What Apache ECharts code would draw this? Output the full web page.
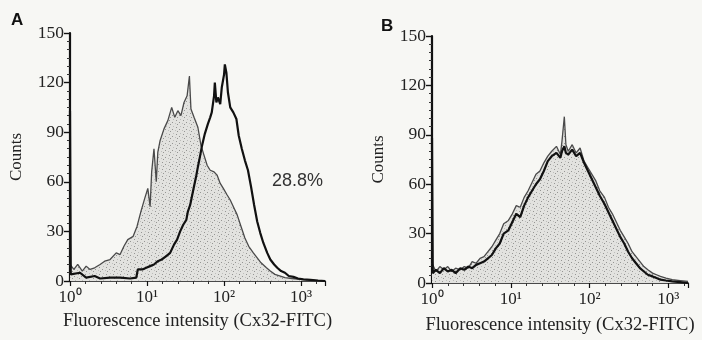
<!DOCTYPE html>
<html>
<head>
<meta charset="utf-8">
<script src="https://cdn.jsdelivr.net/npm/echarts@6/dist/echarts.min.js"></script>
<style>
  html, body { margin: 0; padding: 0; background: #f7f7f4; }
  #chart { width: 702px; height: 340px; }
</style>
</head>
<body>
<div id="chart"></div>
<script>
// panel A - control (grey, filled) : log10 of intensity, counts
const aCtrlLog = [0.00, 0.05, 0.10, 0.16, 0.21, 0.26, 0.32, 0.39, 0.45, 0.52, 0.60, 0.65, 0.70, 0.75, 0.82, 0.87,
  0.92, 0.97, 1.01, 1.04, 1.06, 1.09, 1.12, 1.14, 1.17, 1.22, 1.27, 1.32, 1.36, 1.40, 1.44, 1.48, 1.52, 1.55,
  1.57, 1.61, 1.66, 1.70, 1.74, 1.78, 1.82, 1.87, 1.91, 1.95, 1.99, 2.04, 2.08, 2.13, 2.17, 2.22, 2.27, 2.32,
  2.38, 2.43, 2.48, 2.55, 2.60, 2.66, 2.73, 2.79, 2.88, 2.99, 3.12, 3.25];
const aCtrlCounts = [10, 7, 10, 6, 9, 7, 8, 10, 12, 13, 17, 16, 21, 25, 27, 33,
  42, 50, 56, 45, 66, 80, 60, 78, 85, 92, 97, 105, 99, 103, 100, 108, 112, 124,
  104, 99, 93, 82, 76, 70, 67, 66, 64, 59, 56, 52, 49, 44, 40, 33, 26, 21,
  17, 14, 11, 8, 6, 4, 3, 2, 1.5, 1, 0.5, 0];

// panel A - Cx32 stained (black)
const aCx32Log = [0.00, 0.01, 0.13, 0.21, 0.32, 0.39, 0.52, 0.65, 0.78, 0.86, 0.88, 0.94, 0.99, 1.04, 1.09, 1.14,
  1.19, 1.25, 1.30, 1.35, 1.39, 1.43, 1.47, 1.51, 1.53, 1.56, 1.60, 1.64, 1.66, 1.69, 1.71, 1.75, 1.79, 1.82,
  1.84, 1.87, 1.88, 1.90, 1.92, 1.95, 1.97, 2.00, 2.01, 2.03, 2.05, 2.08, 2.12, 2.16, 2.19, 2.23, 2.27, 2.31,
  2.35, 2.39, 2.43, 2.47, 2.51, 2.56, 2.60, 2.65, 2.69, 2.74, 2.79, 2.84, 2.90, 2.96, 3.03, 3.12, 3.22, 3.31];
const aCx32Counts = [103, 4, 5, 2, 3, 1.5, 2, 2, 1.5, 2, 7, 7, 8, 9, 10, 12,
  13, 15, 17, 22, 25, 30, 34, 37, 42, 46, 55, 64, 69, 76, 81, 89, 95, 99,
  102, 112, 120, 108, 111, 107, 117, 125, 131, 126, 114, 105, 102, 98, 88, 80, 73, 67,
  57, 46, 36, 29, 23, 17, 13, 10, 8, 6, 5, 3, 2.5, 1.5, 1, 0.7, 0.3, 0];

// panel B - shared channel positions
const bLog = [0.00, 0.01, 0.05, 0.10, 0.15, 0.20, 0.25, 0.30, 0.36, 0.41, 0.46, 0.51, 0.56, 0.61, 0.66, 0.71,
  0.76, 0.81, 0.86, 0.91, 0.97, 1.02, 1.07, 1.12, 1.17, 1.22, 1.27, 1.32, 1.37, 1.42, 1.47, 1.52, 1.58, 1.63,
  1.65, 1.68, 1.70, 1.73, 1.78, 1.83, 1.88, 1.93, 1.98, 2.03, 2.08, 2.13, 2.19, 2.24, 2.29, 2.34, 2.39, 2.44,
  2.49, 2.54, 2.59, 2.64, 2.69, 2.74, 2.80, 2.85, 2.90, 2.97, 3.05, 3.15, 3.25];
const bCtrlCounts = [12, 12, 7, 10, 8, 10, 7, 9, 8, 10, 9, 13, 12, 15, 16, 19,
  22, 26, 30, 36, 38, 42, 47, 46, 52, 56, 61, 66, 68, 73, 77, 80, 83, 78,
  86, 101, 84, 80, 84, 79, 82, 74, 70, 66, 62, 56, 52, 46, 42, 37, 32, 28,
  24, 19, 16, 13, 10, 8, 6, 5, 4, 3, 2, 1.5, 1];
const bCx32Counts = [88, 6, 8, 6, 9, 7, 8, 6, 9, 8, 10, 9, 11, 12, 13, 15,
  17, 21, 24, 30, 32, 37, 42, 40, 47, 52, 56, 60, 63, 68, 74, 77, 79, 76,
  80, 83, 79, 78, 81, 77, 79, 73, 68, 63, 58, 53, 48, 43, 38, 33, 28, 24,
  19, 15, 12, 9, 7, 5, 4, 3, 2, 1.5, 1, 0.5, 0];

const yTicks = [0, 30, 60, 90, 120, 150];
const decadeLabels = ["10\u2070", "10\u00b9", "10\u00b2", "10\u00b3"];

function pairs(xs, ys) {
  return xs.map((x, i) => [x, ys[i]]);
}

// stippled fill like the scanned print
function stipple() {
  let c = document.createElement("canvas");
  c.width = 7;
  c.height = 7;
  let g = c.getContext("2d");
  g.fillStyle = "#e2e2df";
  g.fillRect(0, 0, 7, 7);
  g.fillStyle = "#959593";
  g.fillRect(1, 1, 1, 1);
  g.fillRect(4, 3, 1, 1);
  g.fillRect(2, 5, 1, 1);
  g.fillStyle = "#bdbdbb";
  g.fillRect(5, 0, 1, 1);
  g.fillRect(0, 4, 1, 1);
  return c;
}

const serif = "Liberation Serif";

function xAxisFor(idx, max, gap) {
  return {
    type: "value",
    gridIndex: idx,
    min: 0,
    max: max,
    interval: 1,
    name: "Fluorescence intensity (Cx32-FITC)",
    nameLocation: "middle",
    nameGap: gap,
    nameTextStyle: { fontFamily: serif, fontSize: 18.5, color: "#222" },
    axisLine: { lineStyle: { color: "#111", width: 1.6 } },
    axisTick: { length: 5, lineStyle: { color: "#111", width: 1.2 } },
    minorTick: { show: true, splitNumber: 5, length: 3, lineStyle: { color: "#333", width: 1 } },
    splitLine: { show: false },
    axisLabel: {
      margin: 8,
      showMaxLabel: false,
      color: "#222",
      fontFamily: serif,
      fontSize: 17,
      formatter: (v) => (Number.isInteger(v) ? decadeLabels[v] : ""),
    },
  };
}

function yAxisFor(idx) {
  return {
    type: "value",
    gridIndex: idx,
    min: yTicks[0],
    max: yTicks[yTicks.length - 1],
    interval: 30,
    name: "Counts",
    nameLocation: "middle",
    nameRotate: 90,
    nameGap: 45,
    nameTextStyle: { fontFamily: serif, fontSize: 17, color: "#222" },
    axisLine: { show: true, lineStyle: { color: "#111", width: 2.2 } },
    axisTick: { show: true, length: 6, lineStyle: { color: "#111", width: 1.4 } },
    minorTick: { show: true, splitNumber: 6, length: 3, lineStyle: { color: "#333", width: 1 } },
    splitLine: { show: false },
    axisLabel: { margin: 6, color: "#222", fontFamily: serif, fontSize: 17.5 },
  };
}

const chart = echarts.init(document.getElementById("chart"));
const fill = { image: stipple(), repeat: "repeat" };

chart.setOption({
  backgroundColor: "#f7f7f4",
  animation: false,
  grid: [
    { left: 70, top: 33, width: 255, height: 248 },
    { left: 432, top: 36, width: 256, height: 250 },
  ],
  xAxis: [xAxisFor(0, 3.31, 31), xAxisFor(1, 3.25, 33)],
  yAxis: [yAxisFor(0), yAxisFor(1)],
  series: [
    {
      name: "A control",
      type: "line",
      xAxisIndex: 0,
      yAxisIndex: 0,
      data: pairs(aCtrlLog, aCtrlCounts),
      showSymbol: false,
      lineStyle: { color: "#4a4a4a", width: 1.3 },
      areaStyle: { color: fill, opacity: 1 },
      z: 2,
    },
    {
      name: "A Cx32",
      type: "line",
      xAxisIndex: 0,
      yAxisIndex: 0,
      data: pairs(aCx32Log, aCx32Counts),
      showSymbol: false,
      lineStyle: { color: "#111", width: 2.2 },
      z: 3,
    },
    {
      name: "B control",
      type: "line",
      xAxisIndex: 1,
      yAxisIndex: 1,
      data: pairs(bLog, bCtrlCounts),
      showSymbol: false,
      lineStyle: { color: "#4a4a4a", width: 1.3 },
      areaStyle: { color: fill, opacity: 1 },
      z: 2,
    },
    {
      name: "B Cx32",
      type: "line",
      xAxisIndex: 1,
      yAxisIndex: 1,
      data: pairs(bLog, bCx32Counts),
      showSymbol: false,
      lineStyle: { color: "#111", width: 2.2 },
      z: 3,
    },
  ],
  graphic: [
    { type: "text", left: 11, top: 12, style: { text: "A", font: "bold 17px Liberation Sans", fill: "#111" } },
    { type: "text", left: 381, top: 18, style: { text: "B", font: "bold 17px Liberation Sans", fill: "#111" } },
    { type: "text", left: 272, top: 172, style: { text: "28.8%", font: "18px Liberation Sans", fill: "#333" } },
  ],
});
</script>
</body>
</html>
